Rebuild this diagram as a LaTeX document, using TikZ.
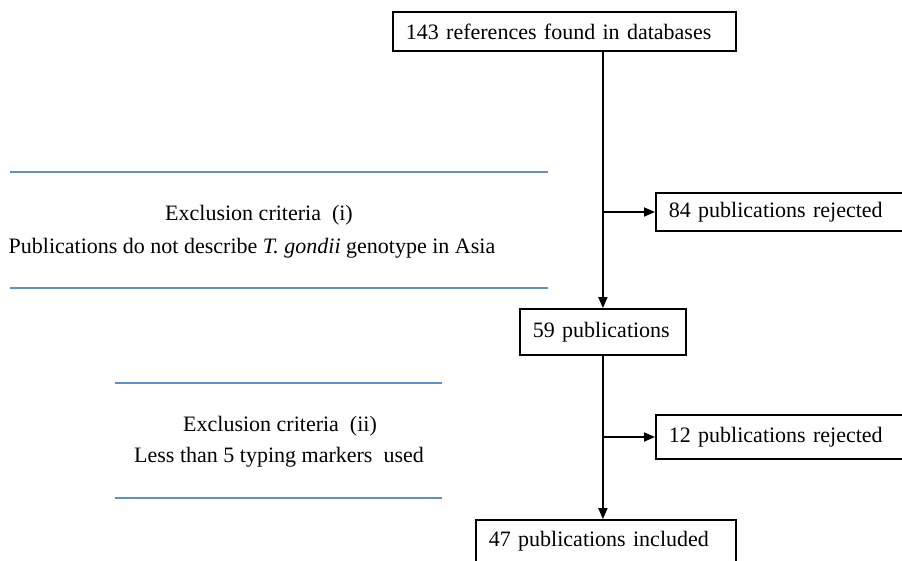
\documentclass[tikz,border=0pt]{standalone}
\usepackage{fontspec}
\setmainfont{Liberation Serif}
\usetikzlibrary{arrows.meta}

\definecolor{ruleblue}{RGB}{98,141,206}

\tikzset{
    box/.style={draw, line width=1.8pt, anchor=west, align=left,
        inner xsep=13pt, inner ysep=0pt},
    flow/.style={line width=1.8pt, -{Triangle[length=11pt,width=9pt]}},
    critline/.style={ruleblue, line width=1.8pt},
}

\newcommand{\critrule}[3]{%
    \draw[critline] (#1,#3) -- (#2,#3);
}

\begin{document}
\begin{tikzpicture}[x=1pt, y=-1pt, font=\fontsize{22}{26}\selectfont]
    \useasboundingbox (0,0) rectangle (902,560);
    % boxes
    \node[box, text width=317pt, minimum height=39pt] (ref) at (392,31.5) {143 references found in databases};
    \node[box, text width=222pt, minimum height=38pt] (rej84) at (655,212) {84 publications rejected};
    \node[box, text width=140pt, minimum height=46pt] (p59) at (519,332) {59 publications};
    \node[box, text width=222pt, minimum height=44pt] (rej12) at (655,437) {12 publications rejected};
    \node[box, text width=234pt, minimum height=43pt] (inc47) at (475,541.5) {47 publications included};
    % exclusion criteria
    \critrule{10}{548}{172}
    \critrule{10}{548}{288}
    \node[anchor=base] (crit1) at (259,220) {Exclusion criteria\ \ (i)};
    \node[anchor=base] (desc1) at (252,253) {Publications do not describe \textit{T. gondii} genotype in Asia};
    \critrule{115}{442}{383}
    \critrule{115}{442}{498}
    \node[anchor=base] (crit2) at (280,431) {Exclusion criteria\ \ (ii)};
    \node[anchor=base] (desc2) at (279,462) {Less than 5 typing markers\ \ used};
    % arrows
    \coordinate (br1) at (p59.north |- rej84.west);
    \coordinate (br2) at (p59.south |- rej12.west);
    \draw[flow] (ref.south -| p59.north) -- (p59.north);
    \draw[flow] (br1) -- (rej84.west);
    \draw[flow] (p59.south) -- (p59.south |- inc47.north);
    \draw[flow] (br2) -- (rej12.west);
\end{tikzpicture}
\end{document}
